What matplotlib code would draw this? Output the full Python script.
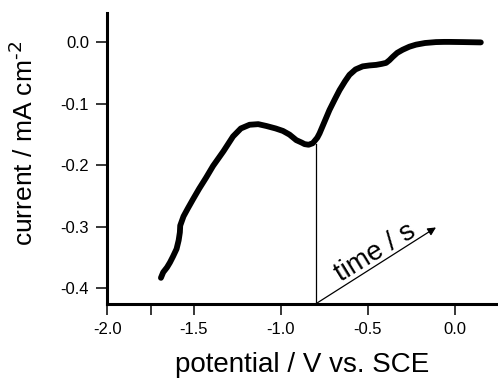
import matplotlib
matplotlib.use("Agg")
import matplotlib.pyplot as plt

plt.rcParams['font.family'] = ['Liberation Sans', 'DejaVu Sans']

# potential (V vs. SCE) and current density (mA cm^-2)
potential = [-1.69, -1.677, -1.655, -1.638, -1.62, -1.60, -1.588, -1.581, -1.579,
             -1.56, -1.535, -1.505, -1.47, -1.43, -1.39,
             -1.33, -1.275, -1.23, -1.18, -1.13, -1.083, -1.03, -0.988, -0.95,
             -0.911, -0.88, -0.863, -0.84, -0.816, -0.79, -0.777, -0.75, -0.72,
             -0.69, -0.662, -0.63, -0.605, -0.57, -0.529, -0.49, -0.452, -0.42,
             -0.394, -0.375, -0.356, -0.33, -0.299, -0.26, -0.222, -0.17, -0.107,
             -0.06, -0.03, 0.05, 0.151]
current = [-0.383, -0.374, -0.366, -0.358, -0.348, -0.336, -0.322, -0.309, -0.298,
           -0.283, -0.270, -0.255, -0.238, -0.220, -0.201,
           -0.177, -0.153, -0.140, -0.134, -0.133, -0.136, -0.140, -0.144,
           -0.150, -0.159, -0.163, -0.1655, -0.1665, -0.164, -0.155, -0.148, -0.130,
           -0.110, -0.093, -0.0777, -0.063, -0.0528, -0.044, -0.039, -0.0375,
           -0.0366, -0.035, -0.0333, -0.029, -0.0236, -0.017, -0.012, -0.007,
           -0.0037, -0.001, 0.0005, 0.0008, 0.0008, 0.0005, 0.0]

xticks = [-2.0, -1.75, -1.5, -1.0, -0.5, 0.0]
xticklabels = ['-2.0', '', '-1.5', '-1.0', '-0.5', '0.0']
yticks = [0.0, -0.1, -0.2, -0.3, -0.4]
yticklabels = ['0.0', '-0.1', '-0.2', '-0.3', '-0.4']

# time axis drawn into the plot
t_origin = (-0.8, -0.4255)
t_tip = (-0.107, -0.301)
marker_top = -0.165

fig = plt.figure(figsize=(4.98, 3.79), dpi=100)
ax = fig.add_axes([0.215, 0.198, 0.785, 0.768])

ax.plot(potential, current, color='black', lw=4.2, solid_capstyle='round',
        solid_joinstyle='round')

ax.plot([t_origin[0], t_origin[0]], [t_origin[1], marker_top], color='black', lw=0.9)
ax.annotate('', xy=t_tip, xytext=t_origin,
            arrowprops=dict(arrowstyle='-|>', color='black', lw=0.9,
                            mutation_scale=12, shrinkA=0, shrinkB=0))
ax.text(-0.455, -0.342, 'time / s', rotation=31.5, fontsize=20,
        ha='center', va='center', rotation_mode='anchor')

ax.set_xlim(-2.0, 0.25)
ax.set_ylim(-0.4255, 0.048)
ax.set_xticks(xticks)
ax.set_xticklabels(xticklabels)
ax.set_yticks(yticks)
ax.set_yticklabels(yticklabels)
ax.tick_params(direction='out', length=8, width=1.1, labelsize=12, pad=5)

for side in ['top', 'right']:
    ax.spines[side].set_visible(False)
for side in ['left', 'bottom']:
    ax.spines[side].set_linewidth(2.2)

ax.set_xlabel('potential / V vs. SCE', fontsize=20, labelpad=11)
ax.set_ylabel(r'current / mA cm$^{\text{-}2}$', fontsize=19)
ax.yaxis.set_label_coords(-0.176, 0.553)

fig.savefig('out.png', dpi=100)
